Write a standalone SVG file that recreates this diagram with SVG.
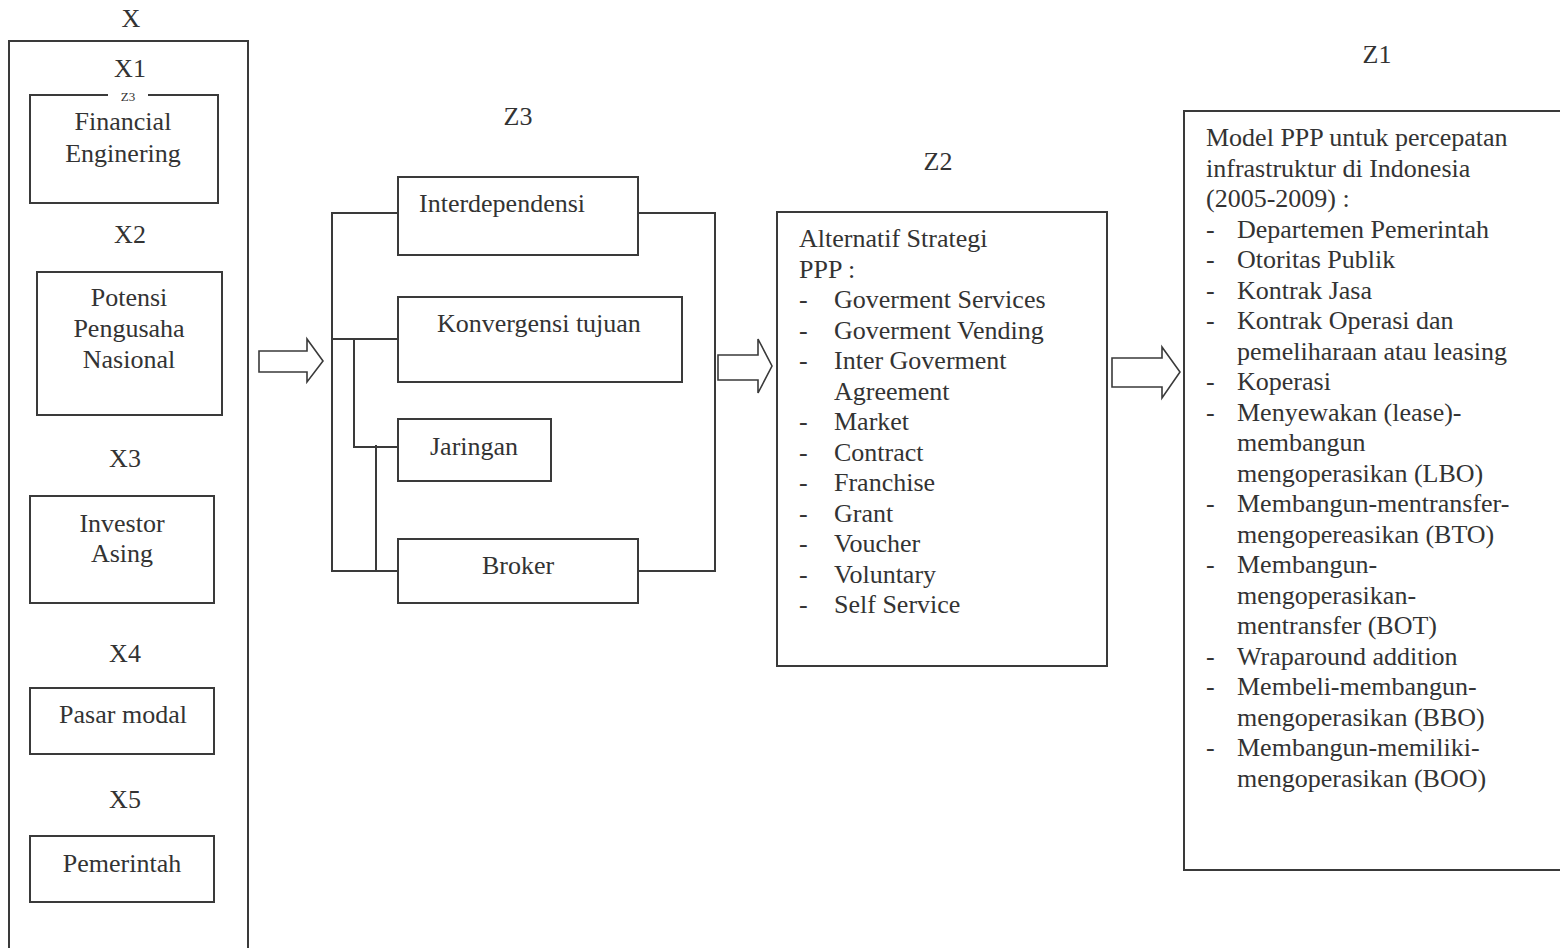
<svg xmlns="http://www.w3.org/2000/svg" width="1560" height="948" viewBox="0 0 1560 948">
<defs>
<style>
.box{fill:none;stroke:#3a3a3a;stroke-width:2}
.ln{fill:none;stroke:#3a3a3a;stroke-width:2}
.arr{fill:#fff;stroke:#3a3a3a;stroke-width:1.6;stroke-linejoin:miter}
text{font-family:"Liberation Serif","Times New Roman",serif;font-size:26px;fill:#333}
.c{text-anchor:middle}
.sm{font-size:13px}
</style>
</defs>
<rect width="1560" height="948" fill="#fff"/>

<g id="X">
<text class="c" x="131" y="27">X</text>
<rect class="box" x="9" y="41" width="239" height="930"/>
</g>

<g id="X1">
<text class="c" x="130" y="77">X1</text>
<path class="ln" d="M108 95 H30 V203 H218 V95 H148"/>
<text class="c sm" x="128" y="101">Z3</text>
<text class="c" x="123" y="130">Financial</text>
<text class="c" x="123" y="162">Enginering</text>
</g>

<g id="X2">
<text class="c" x="130" y="243">X2</text>
<rect class="box" x="37" y="272" width="185" height="143"/>
<text class="c" x="129" y="306">Potensi</text>
<text class="c" x="129" y="337">Pengusaha</text>
<text class="c" x="129" y="368">Nasional</text>
</g>

<g id="X3">
<text class="c" x="125" y="467">X3</text>
<rect class="box" x="30" y="496" width="184" height="107"/>
<text class="c" x="122" y="532">Investor</text>
<text class="c" x="122" y="562">Asing</text>
</g>

<g id="X4">
<text class="c" x="125" y="662">X4</text>
<rect class="box" x="30" y="688" width="184" height="66"/>
<text class="c" x="123" y="723">Pasar modal</text>
</g>

<g id="X5">
<text class="c" x="125" y="808">X5</text>
<rect class="box" x="30" y="836" width="184" height="66"/>
<text class="c" x="122" y="872">Pemerintah</text>
</g>

<g id="connectors">
<path class="arr" d="M259 351 H307 V339 L323 361 L307 382 V372 H259 Z"/>
<path class="arr" d="M718 355 H758 V339 L772 366 L758 393 V380 H718 Z"/>
<path class="arr" d="M1112 358 H1162 V347 L1180 372 L1162 398 V387 H1112 Z"/>
<path class="ln" d="M398 213 H332 V571 H398"/>
<path class="ln" d="M638 213 H715 V571 H638"/>
<path class="ln" d="M332 339 H398"/>
<path class="ln" d="M354 339 V447 H398"/>
<path class="ln" d="M376 445 V571"/>
</g>

<g id="Z3">
<text class="c" x="518" y="125">Z3</text>
</g>

<g id="interdependensi">
<rect class="box" x="398" y="177" width="240" height="78"/>
<text x="419" y="212">Interdependensi</text>
</g>

<g id="konvergensi">
<rect class="box" x="398" y="297" width="284" height="85"/>
<text x="437" y="332">Konvergensi tujuan</text>
</g>

<g id="jaringan">
<rect class="box" x="398" y="419" width="153" height="62"/>
<text x="430" y="455">Jaringan</text>
</g>

<g id="broker">
<rect class="box" x="398" y="539" width="240" height="64"/>
<text x="482" y="574">Broker</text>
</g>

<g id="Z2">
<text class="c" x="938" y="170">Z2</text>
<rect class="box" x="777" y="212" width="330" height="454"/>
<text x="799" y="247">Alternatif Strategi</text>
<text x="799" y="278">PPP :</text>
<g>
<text x="799" y="308">-</text><text x="834" y="308">Goverment Services</text>
<text x="799" y="339">-</text><text x="834" y="339">Goverment Vending</text>
<text x="799" y="369">-</text><text x="834" y="369">Inter Goverment</text>
<text x="834" y="400">Agreement</text>
<text x="799" y="430">-</text><text x="834" y="430">Market</text>
<text x="799" y="461">-</text><text x="834" y="461">Contract</text>
<text x="799" y="491">-</text><text x="834" y="491">Franchise</text>
<text x="799" y="522">-</text><text x="834" y="522">Grant</text>
<text x="799" y="552">-</text><text x="834" y="552">Voucher</text>
<text x="799" y="583">-</text><text x="834" y="583">Voluntary</text>
<text x="799" y="613">-</text><text x="834" y="613">Self Service</text>
</g>
</g>

<g id="Z1">
<text class="c" x="1377" y="63">Z1</text>
<rect class="box" x="1184" y="111" width="400" height="759"/>
<text x="1206" y="146">Model PPP untuk percepatan</text>
<text x="1206" y="177">infrastruktur di Indonesia</text>
<text x="1206" y="207">(2005-2009) :</text>
<text x="1206" y="238">-</text><text x="1237" y="238">Departemen Pemerintah</text>
<text x="1206" y="268">-</text><text x="1237" y="268">Otoritas Publik</text>
<text x="1206" y="299">-</text><text x="1237" y="299">Kontrak Jasa</text>
<text x="1206" y="329">-</text><text x="1237" y="329">Kontrak Operasi dan</text>
<text x="1237" y="360">pemeliharaan atau leasing</text>
<text x="1206" y="390">-</text><text x="1237" y="390">Koperasi</text>
<text x="1206" y="421">-</text><text x="1237" y="421">Menyewakan (lease)-</text>
<text x="1237" y="451">membangun</text>
<text x="1237" y="482">mengoperasikan (LBO)</text>
<text x="1206" y="512">-</text><text x="1237" y="512">Membangun-mentransfer-</text>
<text x="1237" y="543">mengopereasikan (BTO)</text>
<text x="1206" y="573">-</text><text x="1237" y="573">Membangun-</text>
<text x="1237" y="604">mengoperasikan-</text>
<text x="1237" y="634">mentransfer (BOT)</text>
<text x="1206" y="665">-</text><text x="1237" y="665">Wraparound addition</text>
<text x="1206" y="695">-</text><text x="1237" y="695">Membeli-membangun-</text>
<text x="1237" y="726">mengoperasikan (BBO)</text>
<text x="1206" y="756">-</text><text x="1237" y="756">Membangun-memiliki-</text>
<text x="1237" y="787">mengoperasikan (BOO)</text>
</g>
</svg>
